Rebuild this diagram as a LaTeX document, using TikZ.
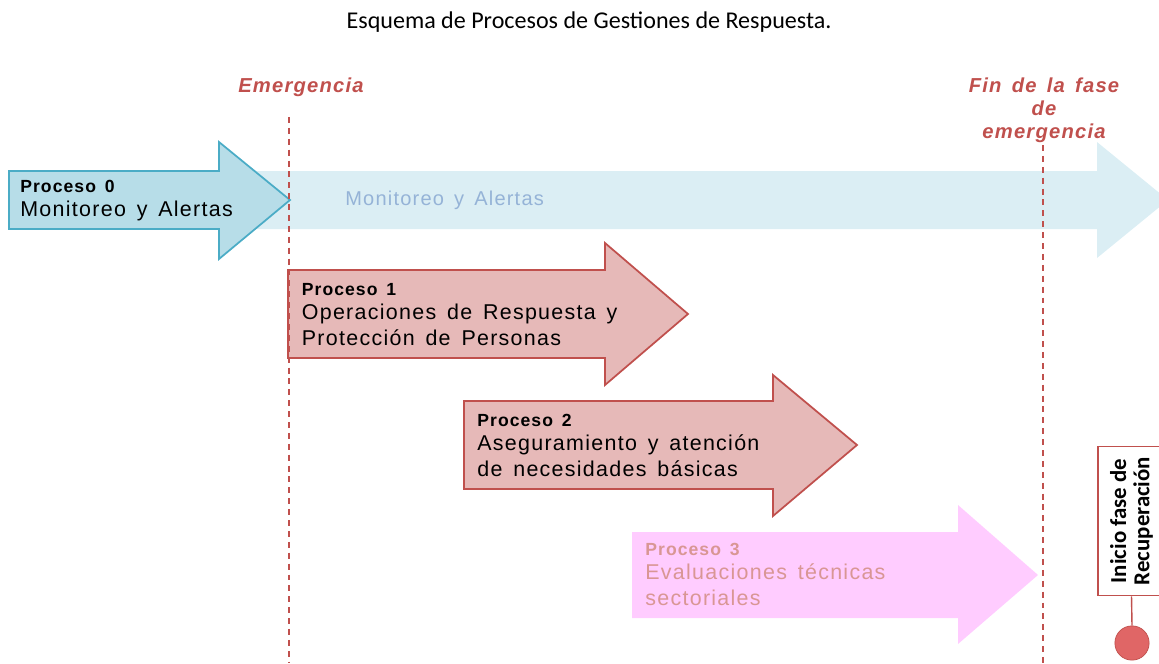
\documentclass[tikz,border=0pt]{standalone}
\usepackage{fontspec}
\setmainfont{Liberation Sans}[LetterSpace=6,WordSpace=1.5]
\newfontfamily\calibri{Carlito}
\usetikzlibrary{positioning}
\definecolor{emred}{HTML}{C0504D}
\definecolor{zeroblue}{HTML}{B7DDE8}
\definecolor{zeroedge}{HTML}{4BACC6}
\definecolor{bgblue}{HTML}{DBEEF4}
\definecolor{bgtext}{HTML}{95B3D7}
\definecolor{rosefill}{HTML}{E6B9B8}
\definecolor{pinkfill}{HTML}{FFCCFF}
\definecolor{pinktext}{HTML}{D99694}
\definecolor{dotred}{HTML}{E06666}

\begin{document}
\begin{tikzpicture}[
  x=0.02cm,y=-0.02cm,
  phase/.style={dash pattern=on 3.4pt off 2.8pt,line width=1.1pt,draw=emred},
  phaselabel/.style={align=center,text=emred,
    font=\fontsize{11.5}{13}\selectfont\bfseries\itshape},
  ptext/.style={anchor=base west,align=left,inner sep=0pt,
    font=\fontsize{12.2}{14.7}\selectfont}
]
\useasboundingbox (0,0) rectangle (1159,663);
\clip (0,0) rectangle (1159,663);

\node[font=\calibri\fontsize{13.7}{16}\selectfont] (title) at (589,22)
  {Esquema de Procesos de Gestiones de Respuesta.};

% phase marks
\node[phaselabel] (emerg) at (301,87) {Emergencia};
\node[phaselabel] (finemerg) at (1044,110) {Fin de la fase\\de\\emergencia};
\coordinate (e1) at (289,117);
\coordinate (e2) at (289,663);
\coordinate (f1) at (1043,145);
\coordinate (f2) at (1043,663);

% background monitoring arrow
\fill[bgblue] (9,171) -- (1097,171) -- (1097,142) -- (1168,200) -- (1097,258)
  -- (1097,229) -- (9,229) -- cycle;
\node[ptext,text=bgtext,font=\fontsize{11.4}{14}\selectfont] (monbg) at (345,205)
  {Monitoreo y Alertas};

% process arrows
\draw[fill=zeroblue,draw=zeroedge,line width=1pt] (9,171) -- (219,171)
  -- (219,142) -- (290,200) -- (219,259) -- (219,229) -- (9,229) -- cycle;
\draw[fill=rosefill,draw=emred,line width=1pt] (288,270) -- (605,270)
  -- (605,243) -- (688,314) -- (605,385) -- (605,358) -- (288,358) -- cycle;
\draw[fill=rosefill,draw=emred,line width=1pt] (464,401) -- (773,401)
  -- (773,375) -- (857,445) -- (773,516) -- (773,489) -- (464,489) -- cycle;
\fill[pinkfill] (632,532) -- (958,532) -- (958,505) -- (1038,575) -- (958,644)
  -- (958,618) -- (632,618) -- cycle;

\node[ptext] (proc0) at (20,216)
  {{\fontsize{10}{11}\selectfont\bfseries Proceso 0}\\[-1.1pt]Monitoreo y Alertas};
\node[ptext] (proc1) at (301.5,345)
  {{\fontsize{10}{11}\selectfont\bfseries Proceso 1}\\[-1.1pt]Operaciones de Respuesta y\\Protección de Personas};
\node[ptext] (proc2) at (477,476)
  {{\fontsize{10}{11}\selectfont\bfseries Proceso 2}\\[-1.1pt]Aseguramiento y atención\\de necesidades básicas};
\node[ptext,text=pinktext] (proc3) at (645,605)
  {{\fontsize{10}{11}\selectfont\bfseries Proceso 3}\\[-1.1pt]Evaluaciones técnicas\\sectoriales};

\draw[phase] (e1) -- (e2);
\draw[phase] (f1) -- (f2);

% recovery mark
\node[draw=emred,fill=white,line width=0.8pt,rotate=90,align=center,
  minimum width=85pt,minimum height=38pt,
  font=\calibri\fontsize{13}{13.2}\selectfont\bfseries] (recup) at (1131.5,521)
  {Inicio fase de\\Recuperación};
\node[circle,fill=dotred,draw=emred,minimum size=19.5pt,inner sep=0pt] (recdot)
  at (1132,643) {};
\draw[emred,line width=0.8pt] (recup.west) -- (recdot.north);
\end{tikzpicture}
\end{document}
